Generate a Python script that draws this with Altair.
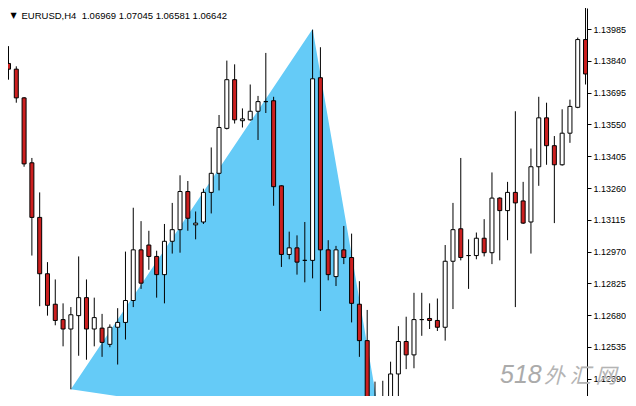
import altair as alt
import pandas as pd

# ---- data (EURUSD H4 candles, left to right) ----
idx = list(range(75))
opens = [1.13828, 1.13802, 1.13671, 1.13375, 1.13126, 1.12869, 1.12730, 1.12660, 1.12617, 1.12678,
         1.12760, 1.12617, 1.12621, 1.12547, 1.12625, 1.12647, 1.12747, 1.12978, 1.13000, 1.12948,
         1.12865, 1.13017, 1.13070, 1.13244, 1.13092, 1.13105, 1.13240, 1.13327, 1.13532, 1.13754,
         1.13567, 1.13571, 1.13610, 1.13654, 1.13658, 1.13270, 1.12957, 1.12987, 1.12930, 1.12930,
         1.13763, 1.12978, 1.12856, 1.12978, 1.12943, 1.12730, 1.12564, 1.12250, 1.12180, 1.12260,
         1.12412, 1.12560, 1.12499, 1.12660, 1.12665, 1.12656, 1.12625, 1.12926, 1.13074, 1.12952,
         1.12952, 1.13031, 1.12965, 1.13214, 1.13157, 1.13240, 1.13201, 1.13105, 1.13357, 1.13580,
         1.13453, 1.13366, 1.13510, 1.13628, 1.13937]
highs = [1.13907, 1.13815, 1.13675, 1.13397, 1.13240, 1.12922, 1.12843, 1.12734, 1.12717, 1.12948,
         1.12843, 1.12760, 1.12686, 1.12638, 1.12712, 1.12970, 1.13170, 1.13109, 1.13065, 1.12974,
         1.13096, 1.13192, 1.13318, 1.13292, 1.13153, 1.13257, 1.13445, 1.13593, 1.13841, 1.13824,
         1.13623, 1.13732, 1.13680, 1.13876, 1.13676, 1.13272, 1.13061, 1.13044, 1.13105, 1.13982,
         1.13902, 1.13022, 1.12996, 1.13087, 1.13052, 1.12835, 1.12704, 1.12377, 1.12381, 1.12468,
         1.12630, 1.12673, 1.12782, 1.12782, 1.12734, 1.12756, 1.13000, 1.13192, 1.13397, 1.13026,
         1.13057, 1.13118, 1.13331, 1.13218, 1.13288, 1.13610, 1.13288, 1.13440, 1.13676, 1.13649,
         1.13497, 1.13619, 1.13663, 1.13946, 1.14124]
lows = [1.13754, 1.13649, 1.13357, 1.12952, 1.12721, 1.12678, 1.12634, 1.12538, 1.12342, 1.12495,
        1.12477, 1.12538, 1.12490, 1.12534, 1.12455, 1.12569, 1.12717, 1.12800, 1.12887, 1.12760,
        1.12734, 1.12961, 1.12965, 1.13065, 1.13026, 1.13096, 1.13144, 1.13249, 1.13527, 1.13554,
        1.13536, 1.13567, 1.13479, 1.13602, 1.13179, 1.12900, 1.12935, 1.12865, 1.12830, 1.12848,
        1.12699, 1.12839, 1.12813, 1.12913, 1.12647, 1.12490, 1.12207, 1.12130, 1.12133, 1.12240,
        1.12303, 1.12434, 1.12438, 1.12586, 1.12617, 1.12608, 1.12564, 1.12708, 1.12930, 1.12800,
        1.12935, 1.12948, 1.12913, 1.12930, 1.13022, 1.12717, 1.13096, 1.12961, 1.13270, 1.13366,
        1.13100, 1.13362, 1.13466, 1.13624, 1.13732]
closes = [1.13802, 1.13671, 1.13370, 1.13126, 1.12869, 1.12725, 1.12656, 1.12617, 1.12682, 1.12760,
          1.12617, 1.12669, 1.12556, 1.12625, 1.12647, 1.12747, 1.12978, 1.12826, 1.12948, 1.12865,
          1.13017, 1.13070, 1.13244, 1.13122, 1.13100, 1.13240, 1.13327, 1.13536, 1.13754, 1.13571,
          1.13575, 1.13610, 1.13654, 1.13654, 1.13266, 1.12957, 1.12987, 1.12922, 1.12930, 1.13758,
          1.12978, 1.12865, 1.12978, 1.12943, 1.12734, 1.12564, 1.12250, 1.12180, 1.12260, 1.12412,
          1.12560, 1.12499, 1.12660, 1.12660, 1.12656, 1.12625, 1.12926, 1.13070, 1.12943, 1.12952,
          1.13031, 1.12965, 1.13214, 1.13157, 1.13240, 1.13192, 1.13100, 1.13357, 1.13580, 1.13453,
          1.13366, 1.13510, 1.13632, 1.13937, 1.13780]

tick_values = [1.12390, 1.12535, 1.12680, 1.12825, 1.12970, 1.13115,
               1.13260, 1.13405, 1.13550, 1.13695, 1.13840, 1.13985]

# pattern triangle vertices (bar index, price)
pattern_idx = [8, 39, 48]
pattern_price = [1.12342, 1.13985, 1.12133]

header = "EURUSD,H4\u00a0 1.06969 1.07045 1.06581 1.06642"
watermark_digits = "518"
watermark_cjk = "外 汇 网"

RED = "#CC1F1F"
BLUE = "#65CBF7"

# ---- tables ----
df = pd.DataFrame({"k": idx, "o": opens, "h": highs, "l": lows, "c": closes})
df["top"] = df[["o", "c"]].max(axis=1)
df["bot"] = df[["o", "c"]].min(axis=1)
df["dir"] = ["up" if c > o else ("down" if c < o else "flat") for o, c in zip(opens, closes)]

ka, kb, kc = pattern_idx
pa, pb, pc = pattern_price
def base(k):
    return pa + (pc - pa) * (k - ka) / (kc - ka)
tri = pd.DataFrame({
    "k": pattern_idx,
    "y": pattern_price,
    "y2": [base(k) for k in pattern_idx],
})

W, H = 579, 388
xscale = alt.Scale(domain=[-0.0625, 74.1875], nice=False, zero=False, padding=0)
yscale = alt.Scale(domain=[1.123115, 1.140809], nice=False, zero=False, padding=0)
yaxis = alt.Axis(orient="right", values=tick_values, format=".5f",
                 tickSize=4, tickColor="black", tickWidth=1,
                 domainColor="black", domainWidth=1,
                 labelColor="black", labelFont="Liberation Sans",
                 labelFontSize=9, labelPadding=2, labelOverlap=False,
                 grid=False, labelFlush=False, title=None)

area = alt.Chart(tri).mark_area(color=BLUE, opacity=1, clip=True).encode(
    x=alt.X("k:Q", scale=xscale, axis=None),
    y=alt.Y("y:Q", scale=yscale, axis=yaxis),
    y2="y2:Q",
)

wicks = alt.Chart(df).mark_rule(color="black", strokeWidth=1, clip=True).encode(
    x=alt.X("k:Q", scale=xscale, axis=None),
    y=alt.Y("h:Q", scale=yscale, axis=yaxis),
    y2="l:Q",
)

bodies = alt.Chart(df).mark_bar(size=4, stroke="black", strokeWidth=1, clip=True).encode(
    x=alt.X("k:Q", scale=xscale, axis=None),
    y=alt.Y("top:Q", scale=yscale, axis=yaxis),
    y2="bot:Q",
    fill=alt.Fill("dir:N", scale=alt.Scale(domain=["up", "down", "flat"],
                                           range=["white", RED, "white"]), legend=None),
)

hdr_df = pd.DataFrame({"t": [header]})
hdr = alt.Chart(hdr_df).mark_text(align="left", baseline="alphabetic",
                                  font="Liberation Sans", fontSize=9.5, color="black").encode(
    x=alt.value(13.5), y=alt.value(10.5), text="t:N")
arrow = alt.Chart(pd.DataFrame({"t": ["▼"]})).mark_text(
    align="left", baseline="alphabetic", font="DejaVu Sans", fontSize=8, color="black").encode(
    x=alt.value(2.5), y=alt.value(10), text="t:N")

wm1 = alt.Chart(pd.DataFrame({"t": [watermark_digits]})).mark_text(
    align="left", baseline="alphabetic", font="Liberation Sans", fontSize=25,
    fontStyle="italic", color="#ababab").encode(
    x=alt.value(492), y=alt.value(375), text="t:N")
wm2 = alt.Chart(pd.DataFrame({"t": [watermark_cjk]})).mark_text(
    align="left", baseline="alphabetic", font="Noto Sans CJK SC", fontSize=21,
    fontStyle="italic", color="#b4b4b4").encode(
    x=alt.value(536), y=alt.value(375), text="t:N")

chart = alt.layer(area, wicks, bodies, hdr, arrow, wm1, wm2).properties(
    width=W, height=H, padding=0, background="white"
).configure_view(stroke=None)

chart.save("out.html", embed_options={"renderer": "svg", "actions": False})
